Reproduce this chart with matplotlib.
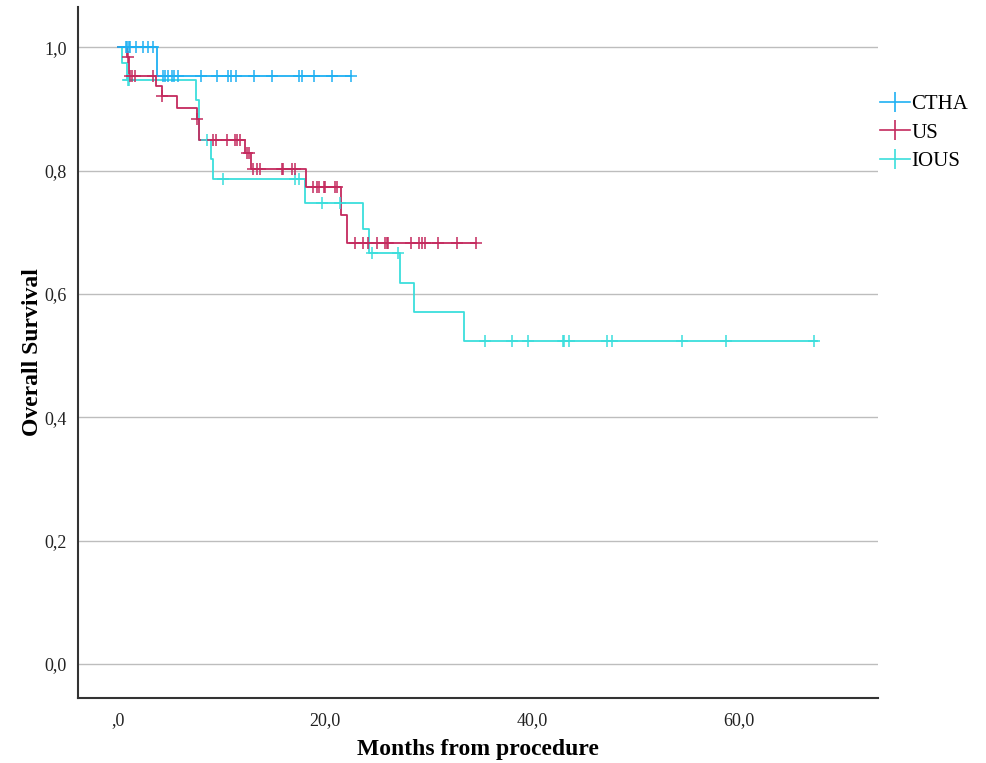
import numpy as np
import matplotlib
matplotlib.use("Agg")
import matplotlib.pyplot as plt
from matplotlib.lines import Line2D

plt.rcParams["font.family"] = ["Liberation Serif", "DejaVu Serif"]

# Kaplan-Meier steps (months, survival after each step)
ctha_times = [0.0, 3.74, 22.5]
ctha_surv = [1.0, 0.953, 0.953]
ctha_censor = [0.77, 0.9, 1.06, 1.16, 1.74, 2.44, 2.93, 3.41,
               4.38, 4.54, 4.83, 5.19, 5.41, 5.83, 8.0, 9.53, 10.66, 10.89,
               11.4, 13.14, 14.85, 17.49, 17.73, 18.94, 20.65, 22.5]

us_times = [0.0, 0.85, 1.05, 3.64, 4.22, 5.73, 7.6, 7.87, 12.27, 12.85,
            18.16, 21.5, 22.1, 34.56]
us_surv = [1.0, 0.984, 0.953, 0.937, 0.920, 0.902, 0.884, 0.850, 0.829,
           0.803, 0.773, 0.728, 0.683, 0.683]
us_censor = [0.95, 1.2, 1.4, 1.65, 3.4, 4.3, 7.65, 9.2, 9.47, 10.5, 11.3,
             11.53, 11.79, 12.43, 12.69, 13.07, 13.4, 13.72, 15.8, 15.97,
             16.78, 17.1, 18.87, 19.26, 19.45, 19.9, 20.0, 20.97, 21.13,
             22.9, 23.7, 24.18, 25.0, 25.8, 25.96, 26.1, 28.3, 29.1, 29.34,
             29.66, 30.95, 32.78, 34.56]

ious_times = [0.0, 0.36, 0.84, 7.55, 7.85, 8.96, 9.21, 18.07, 23.7, 24.25,
              27.2, 28.6, 33.4, 67.5]
ious_surv = [1.0, 0.974, 0.946, 0.914, 0.849, 0.818, 0.786, 0.748, 0.706,
             0.666, 0.617, 0.571, 0.523, 0.523]
ious_censor = [0.95, 1.1, 8.57, 10.17, 17.1, 17.5, 19.74, 21.45, 24.5, 27.0,
               35.4, 38.1, 39.6, 43.0, 43.1, 43.6, 47.2, 47.7, 54.5, 58.7,
               67.2]

groups = ["CTHA", "US", "IOUS"]
colors = {"CTHA": "#1FB0F2", "US": "#C42A5E", "IOUS": "#3BDEDC"}

x_ticks = [0, 20, 40, 60]
x_ticklabels = [",0", "20,0", "40,0", "60,0"]
y_ticks = [0.0, 0.2, 0.4, 0.6, 0.8, 1.0]
y_ticklabels = ["0,0", "0,2", "0,4", "0,6", "0,8", "1,0"]

series = {
    "CTHA": (ctha_times, ctha_surv, ctha_censor),
    "US": (us_times, us_surv, us_censor),
    "IOUS": (ious_times, ious_surv, ious_censor),
}

fig = plt.figure(figsize=(9.86, 7.63), dpi=100)
ax = fig.add_axes([0.0791, 0.0852, 0.8114, 0.9056])

for y in y_ticks:
    ax.axhline(y, color="#bdbdbd", lw=1.0, zorder=0)

# draw IOUS first so the other curves sit on top, like the original
for name in ["IOUS", "US", "CTHA"]:
    t, s, c = series[name]
    t = np.asarray(t)
    s = np.asarray(s)
    ax.plot(t, s, drawstyle="steps-post", color=colors[name], lw=1.3, zorder=2)
    idx = np.searchsorted(t, np.asarray(c), side="right") - 1
    ax.plot(c, s[idx], linestyle="none", marker="+", markersize=9,
            mew=1.1, color=colors[name], zorder=3)

ax.set_xlim(-3.86, 73.4)
ax.set_ylim(-0.055, 1.065)
ax.set_xticks(x_ticks)
ax.set_xticklabels(x_ticklabels)
ax.set_yticks(y_ticks)
ax.set_yticklabels(y_ticklabels)
ax.tick_params(length=0, labelsize=13, colors="#222222")
ax.tick_params(axis="x", pad=10)
ax.tick_params(axis="y", pad=8)

for side in ["top", "right"]:
    ax.spines[side].set_visible(False)
for side in ["left", "bottom"]:
    ax.spines[side].set_color("#333333")
    ax.spines[side].set_linewidth(1.5)

ax.set_xlabel("Months from procedure", fontsize=17, fontweight="bold", labelpad=7)
ax.set_ylabel("Overall Survival", fontsize=17, fontweight="bold", labelpad=1)

handles = [Line2D([], [], color=colors[g], lw=1.2, marker="|", markersize=15,
                  mew=1.2) for g in groups]
fig.legend(handles, groups, loc="upper left", bbox_to_anchor=(0.8925, 0.876),
           frameon=False, fontsize=15, handlelength=1.45, handletextpad=0.05,
           labelspacing=0.42, borderpad=0, borderaxespad=0)

fig.savefig("out.png", dpi=100)
